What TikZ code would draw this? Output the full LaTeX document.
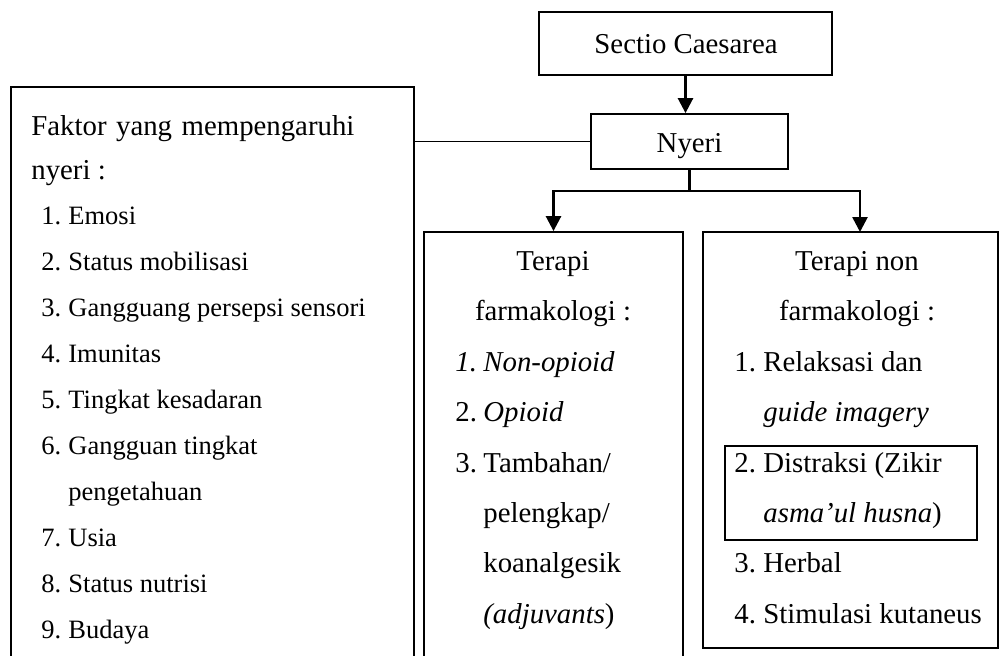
\documentclass[tikz,border=0pt]{standalone}
\usepackage{fontspec}
\setmainfont{Liberation Serif}
\usetikzlibrary{arrows.meta}
\begin{document}
\begin{tikzpicture}[x=0.5pt,y=-0.5pt,
  box/.style={draw, line width=0.9pt, inner sep=0pt},
  txt/.style={inner sep=0pt, anchor=base west, font=\fontsize{14.4}{17}\selectfont},
  ltxt/.style={txt, font=\fontsize{13.25}{16}\selectfont},
  ctxt/.style={txt, anchor=base},
  arr/.style={line width=1.3pt, -{Triangle[length=7.5pt,width=7.5pt]}},
  link/.style={line width=0.9pt}]
\useasboundingbox (0,0) rectangle (1000,655);
\clip (0,0) rectangle (1000,655);
% boxes
\node[box, minimum width=146.5pt, minimum height=31.5pt] (sc) at (685.5,43.5) {};
\node[box, minimum width=98.5pt, minimum height=27.5pt] (ny) at (689.5,141.5) {};
\node[box, minimum width=201.5pt, minimum height=296.5pt] (fk) at (212.5,383.5) {};
\node[box, minimum width=129.5pt, minimum height=224pt] (farm) at (553.5,456) {};
\node[box, minimum width=147.5pt, minimum height=208pt] (nonf) at (850.5,440) {};
\node[box, minimum width=126pt, minimum height=47pt] (dz) at (851,493) {};
% box titles
\node[ctxt] (tsc) at (686,53) {Sectio Caesarea};
\node[ctxt] (tny) at (689.5,152) {Nyeri};
% connectors
\coordinate (j) at (689.5,191);
\coordinate (rt) at (860,232);
\draw[arr] (sc.south) -- (sc.south |- ny.north);
\draw[link] (ny.west) -- (fk.east |- ny.west);
\draw[line width=1.3pt] (ny.south) -- (j);
\draw[arr] (j) -| (farm.north);
\draw[arr] (j) -| (rt);
% left box text
\node[txt] (f0) at (31,135) {\makebox[161.5pt][s]{Faktor yang mempengaruhi}};
\node[txt] (f00) at (31,179) {nyeri :};
\node[ltxt] (n1) at (41,224) {1.}; \node[ltxt] (l1) at (68,224) {Emosi};
\node[ltxt] (n2) at (41,270) {2.}; \node[ltxt] (l2) at (68,270) {Status mobilisasi};
\node[ltxt] (n3) at (41,316) {3.}; \node[ltxt] (l3) at (68,316) {Gangguang persepsi sensori};
\node[ltxt] (n4) at (41,362) {4.}; \node[ltxt] (l4) at (68,362) {Imunitas};
\node[ltxt] (n5) at (41,408) {5.}; \node[ltxt] (l5) at (68,408) {Tingkat kesadaran};
\node[ltxt] (n6) at (41,454) {6.}; \node[ltxt] (l6) at (68,454) {Gangguan tingkat};
\node[ltxt] (l6b) at (68,500) {pengetahuan};
\node[ltxt] (n7) at (41,546) {7.}; \node[ltxt] (l7) at (68,546) {Usia};
\node[ltxt] (n8) at (41,592) {8.}; \node[ltxt] (l8) at (68,592) {Status nutrisi};
\node[ltxt] (n9) at (41,638) {9.}; \node[ltxt] (l9) at (68,638) {Budaya};
% middle box text
\node[ctxt] (m0) at (553,270) {Terapi};
\node[ctxt] (m00) at (553,320) {farmakologi :};
\node[txt] (mn1) at (455,371) {\itshape 1.}; \node[txt] (m1) at (483,371) {\itshape Non-opioid};
\node[txt] (mn2) at (455,421) {2.}; \node[txt] (m2) at (483,421) {\itshape Opioid};
\node[txt] (mn3) at (455,472) {3.}; \node[txt] (m3) at (483,472) {Tambahan/};
\node[txt] (m3b) at (483,522) {pelengkap/};
\node[txt] (m3c) at (483,572) {koanalgesik};
\node[txt] (m3d) at (483,623) {\textit{(adjuvants})};
% right box text
\node[ctxt] (r0) at (857,270) {Terapi non};
\node[ctxt] (r00) at (857,320) {farmakologi :};
\node[txt] (rn1) at (734,371) {1.}; \node[txt] (r1) at (763,371) {Relaksasi dan};
\node[txt] (r1b) at (763,421) {\itshape guide imagery};
\node[txt] (rn2) at (734,472) {2.}; \node[txt] (r2) at (763,472) {Distraksi (Zikir};
\node[txt] (r2b) at (763,522) {\textit{asma’ul husna})};
\node[txt] (rn3) at (734,572) {3.}; \node[txt] (r3) at (763,572) {Herbal};
\node[txt] (rn4) at (734,623) {4.}; \node[txt] (r4) at (763,623) {Stimulasi kutaneus};
\end{tikzpicture}
\end{document}
